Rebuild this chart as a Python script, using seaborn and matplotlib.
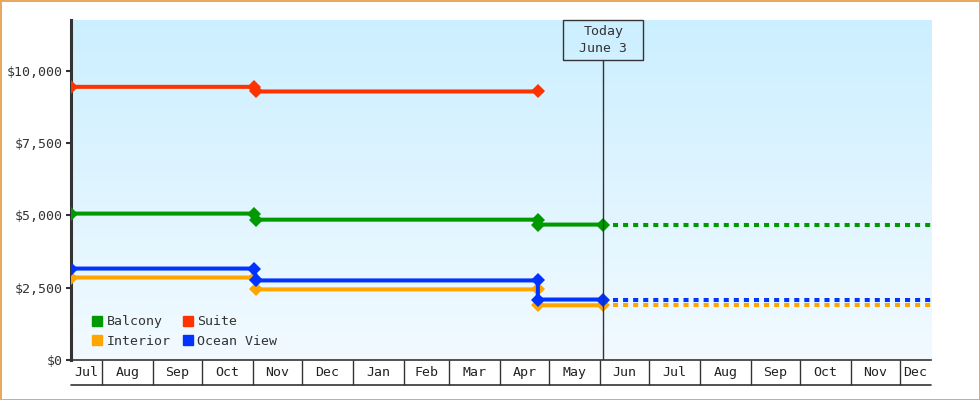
import matplotlib
matplotlib.use('Agg')
import matplotlib.pyplot as plt
import matplotlib.dates as mdates
import matplotlib.transforms as mtransforms
from matplotlib.colors import LinearSegmentedColormap
from matplotlib.lines import Line2D
from matplotlib.patches import Rectangle
import seaborn as sns
import pandas as pd
import numpy as np

sns.set_theme(style='white')
plt.rcParams['font.family'] = ['DejaVu Sans Mono']

# price history per cabin type (a price change is a pair of points)
balcony_dates = ['2024-07-13', '2024-11-02', '2024-11-03', '2025-04-24', '2025-04-24', '2025-06-03']
balcony_prices = [5060, 5060, 4850, 4850, 4680, 4680]

interior_dates = ['2024-07-13', '2024-11-02', '2024-11-03', '2025-04-24', '2025-04-24', '2025-06-03']
interior_prices = [2850, 2850, 2440, 2440, 1890, 1890]

suite_dates = ['2024-07-13', '2024-11-02', '2024-11-03', '2025-04-24']
suite_prices = [9440, 9440, 9280, 9280]

oceanview_dates = ['2024-07-13', '2024-11-02', '2024-11-03', '2025-04-24', '2025-04-24', '2025-06-03']
oceanview_prices = [3160, 3160, 2750, 2750, 2090, 2090]

cabins = ['Balcony', 'Interior', 'Suite', 'Ocean View']
cabin_colors = ['#009900', '#ffa500', '#ff3300', '#0033ff']

start_date = pd.Timestamp('2024-07-13')
end_date = pd.Timestamp('2025-12-20')
today = pd.Timestamp('2025-06-03')
y_ticks = [0, 2500, 5000, 7500, 10000]
y_max = 11750

series = {
    'Balcony': (balcony_dates, balcony_prices),
    'Interior': (interior_dates, interior_prices),
    'Suite': (suite_dates, suite_prices),
    'Ocean View': (oceanview_dates, oceanview_prices),
}
palette = dict(zip(cabins, cabin_colors))

rows = []
for name, (dates, prices) in series.items():
    for d, p in zip(dates, prices):
        rows.append({'cabin': name, 'date': pd.Timestamp(d), 'price': p})
df = pd.DataFrame(rows)

fig = plt.figure(figsize=(9.8, 4), dpi=100)
ax = fig.add_axes([71 / 980, 40 / 400, 860 / 980, 340 / 400])

# background gradient
grad_cmap = LinearSegmentedColormap.from_list('bg', ['#f2faff', '#ccefff'])
grad = np.linspace(0, 1, 256).reshape(-1, 1)
ax.imshow(grad, extent=[0, 1, 0, 1], transform=ax.transAxes, aspect='auto',
          cmap=grad_cmap, origin='lower', zorder=0)

sns.lineplot(data=df, x='date', y='price', hue='cabin', hue_order=cabins,
             palette=palette, estimator=None, sort=False, marker='D',
             markersize=7, markeredgewidth=0, linewidth=2.9, legend=False,
             ax=ax, zorder=3)

# projection after today
for name, (dates, prices) in series.items():
    if pd.Timestamp(dates[-1]) == today:
        ax.plot([today + pd.Timedelta(days=6), end_date], [prices[-1], prices[-1]],
                color=palette[name], lw=2.9, ls=(0, (1.25, 1.25)), zorder=3)

ax.set_xlim(mdates.date2num(start_date), mdates.date2num(end_date))
ax.set_ylim(0, y_max)

# today marker
blend = mtransforms.blended_transform_factory(ax.transData, ax.transAxes)
box_bottom = 1 - 40 / 340
tnum = mdates.date2num(today)
ax.plot([tnum, tnum], [0, box_bottom], transform=blend, color='#333333', lw=1, zorder=4)
ax.add_patch(Rectangle((tnum - 24.4, box_bottom), 48.8, 40 / 340, transform=blend,
                       fill=False, ec='#333333', lw=1, clip_on=False, zorder=4))
ax.text(tnum, (1 + box_bottom) / 2, 'Today\nJune 3', transform=blend, ha='center',
        va='center', fontsize=9.5, color='#333333', linespacing=1.35, zorder=5)

# month cells under the axis
bounds = pd.date_range('2024-08-01', '2025-12-01', freq='MS')
edges = [start_date] + list(bounds) + [end_date]
centers = [mdates.date2num(a) + (mdates.date2num(b) - mdates.date2num(a)) / 2
           for a, b in zip(edges[:-1], edges[1:])]
month_labels = [e.strftime('%b') for e in edges[:-1]]
ax.set_xticks([mdates.date2num(b) for b in bounds])
ax.set_xticklabels([])
ax.set_xticks(centers, minor=True)
ax.set_xticklabels(month_labels, minor=True)
ax.tick_params(axis='x', which='major', bottom=True, length=18, width=1,
               color='#333333', direction='out')
ax.tick_params(axis='x', which='minor', bottom=True, length=0, pad=4,
               labelsize=9.5, labelcolor='#222222')
ax.plot([0, 1], [-25 / 340, -25 / 340], transform=ax.transAxes, clip_on=False,
        color='#333333', lw=1.2)

ax.set_yticks(y_ticks)
ax.set_yticklabels([f'${v:,}' for v in y_ticks])
ax.tick_params(axis='y', left=True, length=3.6, width=1.5, color='#333333',
               direction='out', pad=2, labelsize=9.5, labelcolor='#333333')
ax.set_xlabel('')
ax.set_ylabel('')

for side in ['top', 'right']:
    ax.spines[side].set_visible(False)
ax.spines['left'].set_color('#333333')
ax.spines['left'].set_linewidth(2.2)
ax.spines['bottom'].set_color('#333333')
ax.spines['bottom'].set_linewidth(1.2)

handles = [Line2D([], [], marker='s', ls='none', color=c, markersize=7.5)
           for c in cabin_colors]
ax.legend(handles, cabins, ncol=2, loc='lower left', bbox_to_anchor=(0.017, 0.016),
          frameon=False, fontsize=9.5, handlelength=0.8, handletextpad=0.3,
          columnspacing=0.9, labelspacing=0.5, borderpad=0, labelcolor='#333333')

fig.patch.set_facecolor('white')
fig.patch.set_edgecolor('#e8a95f')
fig.patch.set_linewidth(2)
fig.savefig('out.png', dpi=100, facecolor='white', edgecolor=fig.get_edgecolor())
